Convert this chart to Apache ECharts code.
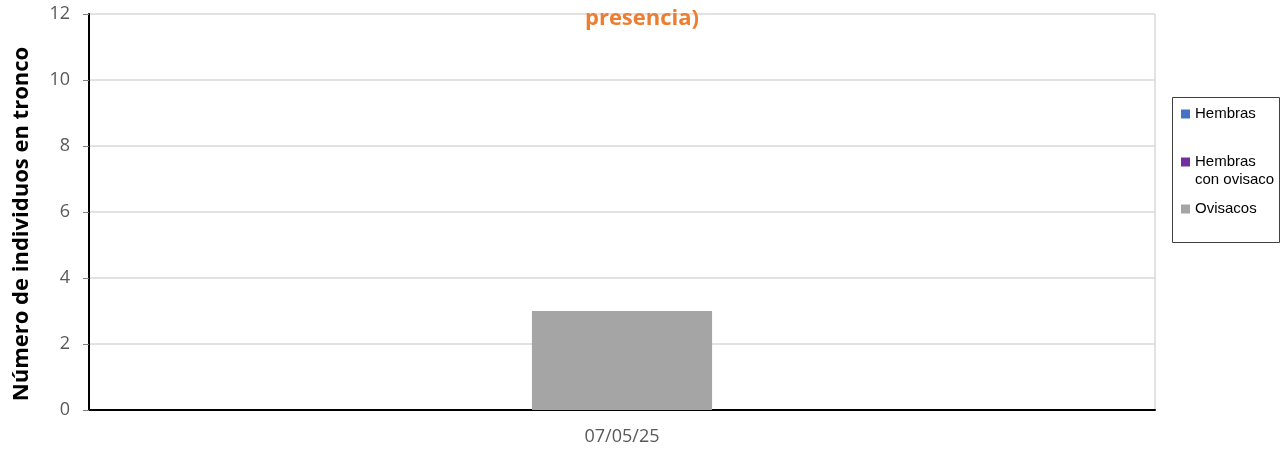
<!DOCTYPE html>
<html>
<head>
<meta charset="utf-8">
<script src="https://cdn.jsdelivr.net/npm/echarts@6/dist/echarts.min.js"></script>
<style>
html,body{margin:0;padding:0;background:#fff;}
#chart{width:1288px;height:454px;}
</style>
</head>
<body>
<div id="chart"></div>
<script>
const categories = ['07/05/25'];
const seriesNames = ['Hembras', 'Hembras con ovisaco', 'Ovisacos'];
const hembras = [0];
const hembrasConOvisaco = [0];
const ovisacos = [3];
const yTicks = [0, 2, 4, 6, 8, 10, 12];
const colors = ['#4472C4', '#7030A0', '#A5A5A5'];

const chart = echarts.init(document.getElementById('chart'));
const legendText = { fontFamily: 'Liberation Sans, Arial', fontSize: 15, color: '#000', lineHeight: 18 };
const option = {
  animation: false,
  title: {
    text: 'presencia)',
    left: 637, top: 3, textAlign: 'center',
    textStyle: { color: '#ED7D31', fontFamily: 'Open Sans', fontWeight: 'bold', fontSize: 22 }
  },
  grid: { left: 89, right: 133, top: 14, bottom: 44, containLabel: false },
  xAxis: {
    type: 'category',
    data: categories,
    axisLine: { lineStyle: { color: '#000', width: 2 } },
    axisTick: { show: false },
    axisLabel: { color: '#595959', fontFamily: 'Open Sans', fontSize: 18, margin: 18 },
    splitLine: { show: true, lineStyle: { color: '#D9D9D9', width: 1.5 } }
  },
  yAxis: {
    type: 'value',
    min: yTicks[0], max: yTicks[yTicks.length - 1], interval: 2,
    name: 'Número de individuos en tronco',
    nameLocation: 'middle', nameGap: 56,
    nameTextStyle: { color: '#000', fontFamily: 'Open Sans', fontWeight: 'bold', fontSize: 22, padding: [0, 24, 0, 0] },
    axisLine: { show: true, lineStyle: { color: '#000', width: 2 } },
    axisTick: { show: true, length: 6, lineStyle: { color: '#808080' } },
    axisLabel: { color: '#595959', fontFamily: 'Open Sans', fontSize: 18, margin: 19 },
    splitLine: { lineStyle: { color: '#D9D9D9', width: 1.5 } }
  },
  legend: [
    { data: [seriesNames[0]], left: 1181, top: 105, padding: 0, itemWidth: 9, itemHeight: 9, itemGap: 0, icon: 'rect', textStyle: legendText },
    { data: [seriesNames[1]], left: 1181, top: 135, padding: 0, itemWidth: 9, itemHeight: 9, itemGap: 0, icon: 'rect',
      formatter: () => ' \nHembras\ncon ovisaco',
      textStyle: legendText },
    { data: [seriesNames[2]], left: 1181, top: 200, padding: 0, itemWidth: 9, itemHeight: 9, itemGap: 0, icon: 'rect', textStyle: legendText }
  ],
  graphic: [{
    type: 'rect', left: 1170, top: 95, shape: { width: 107, height: 145 },
    style: { fill: 'none', stroke: '#404040', lineWidth: 1 }, silent: true
  }],
  series: [
    { name: seriesNames[0], type: 'bar', stack: 'a', data: hembras, itemStyle: { color: colors[0] }, barWidth: '16.9%' },
    { name: seriesNames[1], type: 'bar', stack: 'a', data: hembrasConOvisaco, itemStyle: { color: colors[1] }, barWidth: '16.9%' },
    { name: seriesNames[2], type: 'bar', stack: 'a', data: ovisacos, itemStyle: { color: colors[2] }, barWidth: '16.9%' }
  ]
};
chart.setOption(option);
</script>
</body>
</html>
